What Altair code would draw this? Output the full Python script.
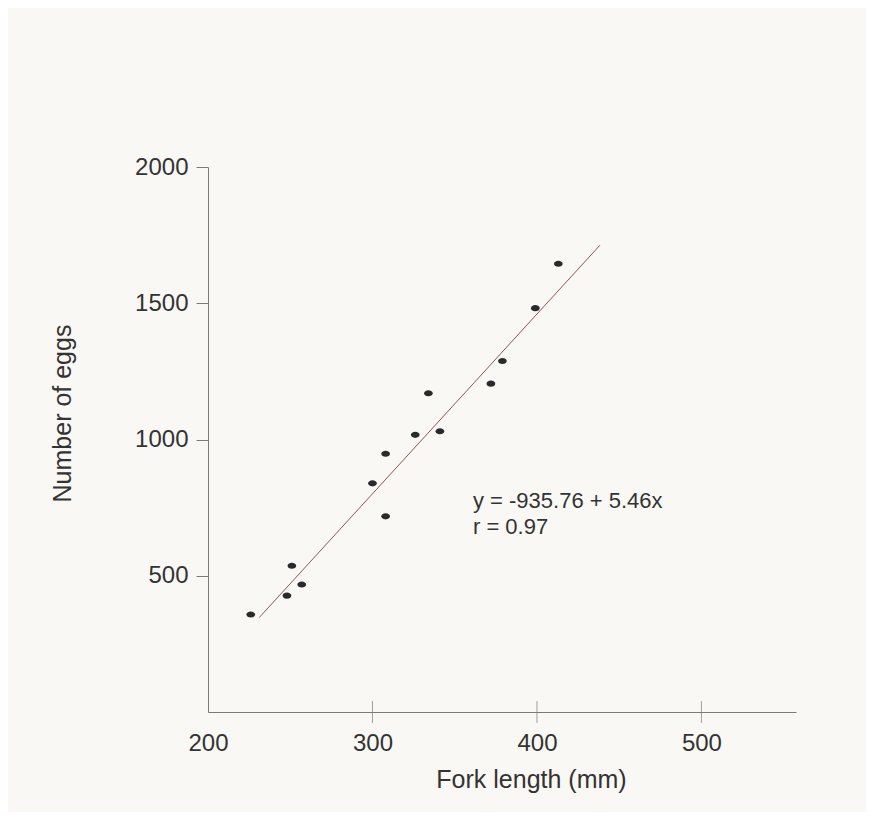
import altair as alt
import pandas as pd

# Data
fork_length = [226, 248, 251, 257, 300, 308, 308, 326, 334, 341, 372, 379, 399, 413]
num_eggs = [358, 427, 537, 468, 839, 948, 718, 1017, 1170, 1030, 1205, 1288, 1482, 1645]

fit_x = [231.2, 438.3]
fit_y = [347, 1713]

x_ticks = [200, 300, 400, 500]
y_ticks = [500, 1000, 1500, 2000]

ann_lines = ["y = -935.76 + 5.46x", "r  = 0.97"]
ann_x = [361.1, 361.1]
ann_y = [750, 655]

FONT = "Liberation Sans"
TXT = "#333333"
AX = "#7a7a7a"

pts = pd.DataFrame({"x": fork_length, "y": num_eggs})
fit = pd.DataFrame({"x": fit_x, "y": fit_y})
ticks = pd.DataFrame({"x": x_ticks[1:], "y": [0] * 3})
ann = pd.DataFrame({"x": ann_x, "y": ann_y, "t": ann_lines})

xscale = alt.Scale(domain=[200, 557.5], nice=False, zero=False)
yscale = alt.Scale(domain=[0, 2000], nice=False)

xaxis = alt.Axis(values=x_ticks, ticks=False, labelPadding=19, grid=False, format="d",
                 domainColor=AX, labelFont=FONT, labelFontSize=24, labelColor=TXT,
                 labelFlush=False, title="Fork length (mm)", titleFont=FONT,
                 titleFontSize=25, titleFontWeight="normal", titleColor=TXT,
                 titleX=323, titleY=75, titleBaseline="alphabetic", titleAlign="center")
yaxis = alt.Axis(values=y_ticks, tickSize=12, tickColor=AX, labelPadding=8, grid=False,
                 format="d",
                 domainColor=AX, labelFont=FONT, labelFontSize=24, labelColor=TXT,
                 labelFlush=False, title="Number of eggs", titleFont=FONT,
                 titleFontSize=25, titleFontWeight="normal", titleColor=TXT,
                 titleAngle=270, titleX=-138, titleY=246, titleBaseline="alphabetic",
                 titleAlign="center")

ellipse = "M-1,0 A1,0.7 0 1,0 1,0 A1,0.7 0 1,0 -1,0 Z"

points = alt.Chart(pts).mark_point(filled=True, shape=ellipse, size=75,
                                   color="#2a2a2a", opacity=1).encode(
    x=alt.X("x:Q", scale=xscale, axis=xaxis),
    y=alt.Y("y:Q", scale=yscale, axis=yaxis),
)

line = alt.Chart(fit).mark_line(color="#8a5656", strokeWidth=1).encode(
    x=alt.X("x:Q", scale=xscale),
    y=alt.Y("y:Q", scale=yscale),
)

xt = alt.Chart(ticks).mark_tick(orient="vertical", size=22, thickness=1, color=AX).encode(
    x=alt.X("x:Q", scale=xscale),
    y=alt.Y("y:Q", scale=yscale),
)

text = alt.Chart(ann).mark_text(align="left", baseline="alphabetic", font=FONT,
                                fontSize=22, color=TXT).encode(
    x=alt.X("x:Q", scale=xscale),
    y=alt.Y("y:Q", scale=yscale),
    text="t:N",
)

chart = alt.layer(line, xt, points, text).properties(
    width=588, height=545,
    autosize="none",
    padding={"left": 200, "top": 159, "right": 70, "bottom": 100},
    background="#faf8f4",
).configure_view(stroke=None)

chart.save("out.html", embed_options={"renderer": "svg", "actions": False})
